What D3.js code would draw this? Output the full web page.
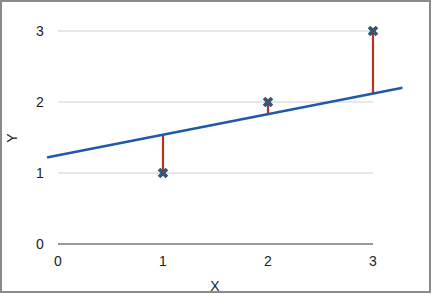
<!DOCTYPE html>
<html>
<head>
<meta charset="utf-8">
<script src="https://cdn.jsdelivr.net/npm/d3@7"></script>
<style>
  body { margin: 0; background: #fff; }
  svg { display: block; font-family: "Liberation Sans", Arial, sans-serif; }
</style>
</head>
<body>
<div id="chart"></div>
<script>
// observed points
let xs = [1, 2, 3];
let ys = [1, 2, 3];
// fitted line shown in the figure
let lineX = [-0.095, 3.27];
let intercept = 1.25;
let slope = 0.29;
let xTicks = [0, 1, 2, 3];
let yTicks = [0, 1, 2, 3];

let width = 432;
let height = 294;

let svg = d3.select("#chart").append("svg")
  .attr("width", width)
  .attr("height", height);

let x = d3.scaleLinear().domain([0, 3]).range([58, 373]);
let y = d3.scaleLinear().domain([0, 3]).range([244, 31]);

// frame
svg.append("rect")
  .attr("x", 1).attr("y", 1)
  .attr("width", width - 3).attr("height", height - 3)
  .attr("fill", "none").attr("stroke", "#8a8a8a").attr("stroke-width", 2);

// gridlines
svg.append("g").selectAll("line")
  .data(yTicks)
  .enter().append("line")
  .attr("x1", x(0)).attr("x2", x(3))
  .attr("y1", d => y(d)).attr("y2", d => y(d))
  .attr("stroke", d => d === 0 ? "#777" : "#cfcfcf")
  .attr("stroke-width", d => d === 0 ? 1.5 : 1.2);

// y tick labels
svg.append("g").selectAll("text")
  .data(yTicks)
  .enter().append("text")
  .attr("x", 40).attr("y", d => y(d) + 5)
  .attr("text-anchor", "middle")
  .style("font-size", "14px").attr("fill", "#222")
  .text(d => d);

// x tick labels
svg.append("g").selectAll("text")
  .data(xTicks)
  .enter().append("text")
  .attr("x", d => x(d)).attr("y", 266)
  .attr("text-anchor", "middle")
  .style("font-size", "14px").attr("fill", "#222")
  .text(d => d);

// axis titles
svg.append("text")
  .attr("x", 215).attr("y", 291)
  .attr("text-anchor", "middle")
  .style("font-size", "14px").attr("fill", "#222")
  .text("X");
svg.append("text")
  .attr("transform", "translate(17,138) rotate(-90)")
  .attr("text-anchor", "middle")
  .style("font-size", "14px").attr("fill", "#222")
  .text("Y");

let fit = v => intercept + slope * v;

// residuals
svg.append("g").selectAll("line")
  .data(xs)
  .enter().append("line")
  .attr("x1", d => x(d)).attr("x2", d => x(d))
  .attr("y1", (d, i) => y(ys[i])).attr("y2", d => y(fit(d)))
  .attr("stroke", "#b3331f").attr("stroke-width", 2.2);

// regression line
svg.append("line")
  .attr("x1", x(lineX[0])).attr("y1", y(fit(lineX[0])))
  .attr("x2", x(lineX[1])).attr("y2", y(fit(lineX[1])))
  .attr("stroke", "#1f5aa6").attr("stroke-width", 2.6)
  .attr("stroke-linecap", "round");

// point markers
let cross = d3.symbol().type(d3.symbolCross).size(70);
svg.append("g").selectAll("path")
  .data(xs)
  .enter().append("path")
  .attr("d", cross)
  .attr("transform", (d, i) => `translate(${x(d)},${y(ys[i])}) rotate(45)`)
  .attr("fill", "#3b5671");
</script>
</body>
</html>
